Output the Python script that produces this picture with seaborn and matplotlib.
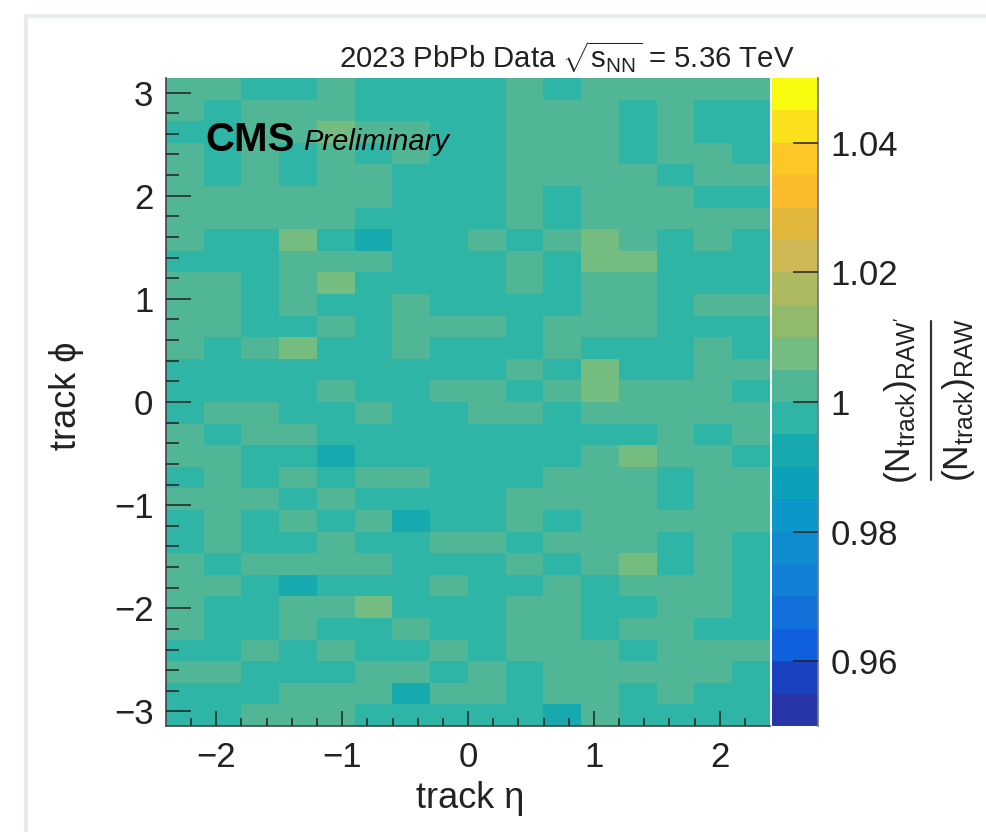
import numpy as np
import pandas as pd
import matplotlib
matplotlib.use("Agg")
import matplotlib.pyplot as plt
import seaborn as sns
from matplotlib.colors import ListedColormap
from matplotlib.lines import Line2D
from matplotlib.patches import Rectangle

sns.set_theme(style="white")
plt.rcParams['font.family'] = ['Liberation Sans', 'DejaVu Sans']
plt.rcParams['mathtext.fontset'] = 'custom'
plt.rcParams['mathtext.rm'] = 'Liberation Sans'
plt.rcParams['mathtext.it'] = 'Liberation Sans'
plt.rcParams['mathtext.bf'] = 'Liberation Sans:bold'
plt.rcParams['axes.axisbelow'] = False

# z values, one per bin colour level
B = 0.9925
T = 0.9975
G = 1.0025
O = 1.0075

# rows from the top (phi = +pi) to the bottom (phi = -pi), 16 eta bins
ratio_rows = [
    [G, G, T, T, G, T, T, T, T, G, T, G, G, G, G, G],
    [G, T, G, G, G, T, T, T, T, G, G, G, T, G, T, T],
    [T, T, G, G, O, G, G, T, T, G, G, G, T, G, T, T],
    [G, T, G, T, G, T, G, T, T, G, G, G, T, G, G, T],
    [G, T, G, T, G, G, T, T, T, G, G, G, G, T, G, G],
    [G, G, G, G, G, G, T, T, T, G, T, G, G, G, T, T],
    [G, G, G, G, G, T, T, T, T, G, T, G, G, G, G, G],
    [G, T, T, O, T, B, T, T, G, T, G, O, G, T, G, T],
    [T, T, T, G, G, G, T, T, T, G, T, O, O, T, T, T],
    [G, G, T, G, O, T, T, T, T, G, T, G, G, T, T, T],
    [G, G, T, G, T, T, G, T, T, T, T, G, G, T, G, G],
    [G, G, T, T, G, T, G, G, G, T, G, G, G, T, T, T],
    [G, T, G, O, T, T, G, T, T, T, G, T, T, T, G, T],
    [T, T, T, T, T, T, T, T, T, G, T, O, T, T, G, G],
    [T, T, T, T, G, T, T, G, G, T, G, O, G, G, G, T],
    [T, G, G, T, T, G, T, T, G, G, T, G, G, G, G, G],
    [G, T, G, G, T, T, T, T, T, T, T, T, T, G, T, G],
    [G, G, T, T, B, T, T, T, T, T, T, G, O, G, G, T],
    [T, G, T, G, T, G, G, T, T, T, G, G, G, T, G, G],
    [G, G, G, T, G, T, T, T, T, G, G, G, G, T, G, G],
    [T, G, T, G, T, G, B, T, T, G, T, G, G, G, G, G],
    [T, G, T, T, G, T, T, G, G, T, G, G, G, T, G, T],
    [G, T, G, G, G, G, T, T, T, G, T, G, O, T, G, T],
    [G, G, T, B, T, T, T, G, T, T, G, T, G, G, G, T],
    [G, T, T, G, G, O, T, T, T, G, G, T, T, G, G, T],
    [G, T, T, G, T, T, G, T, T, G, G, T, G, G, T, T],
    [T, T, G, T, G, T, T, G, T, G, G, G, T, G, G, G],
    [G, G, T, T, T, G, G, T, G, T, G, G, G, G, G, T],
    [T, T, T, G, G, G, B, G, G, T, G, G, T, G, T, T],
    [T, T, G, G, G, T, T, T, T, T, B, G, T, T, T, T],
]

eta_edges_lo = -2.4
eta_bin = 0.3
phi_hi = np.pi
phi_bin = 2 * np.pi / 30

# palette of the colour bar, low to high
level_colors = ['#2735a6', '#1a42c0', '#105fdc', '#1270da', '#1280d6',
                '#0f8cd0', '#0b98c8', '#0ba1ba', '#16a9ae', '#2fb5a5',
                '#50b696', '#75bc80', '#91bb6a', '#aeba5f', '#cdb855',
                '#e0b73a', '#f8bb2c', '#fdc827', '#fbe01c', '#f9fb0e']
cbar_ticks = [0.96, 0.98, 1.0, 1.02, 1.04]
cbar_labels = ['0.96', '0.98', '1', '1.02', '1.04']
eta_ticks = [-2, -1, 0, 1, 2]
phi_ticks = [-3, -2, -1, 0, 1, 2, 3]

W, H = 987, 832
fig = plt.figure(figsize=(W / 100, H / 100), dpi=100)
fig.patch.set_facecolor('white')


def box(left, top, right, bottom):
    return [left / W, 1 - bottom / H, (right - left) / W, (bottom - top) / H]


# card behind the plot
fig.add_artist(Rectangle((26 / W, -0.05), 1.1, 1 - 16 / H + 0.05, transform=fig.transFigure,
                         facecolor='white', edgecolor='#e6ecec', linewidth=3, zorder=-1))

ax = fig.add_axes(box(166, 78, 770, 726))
cax = fig.add_axes(box(772, 78, 818, 726))

df = pd.DataFrame(ratio_rows)
sns.heatmap(df, ax=ax, cbar_ax=cax, cmap=ListedColormap(level_colors), vmin=0.95, vmax=1.05,
            xticklabels=False, yticklabels=False, cbar_kws={'ticks': cbar_ticks})
ax.set_axisbelow(False)
cax.set_axisbelow(False)

# heatmap axes count bins, so convert eta/phi into bin units
def to_x(v):
    return (np.asarray(v, dtype=float) - eta_edges_lo) / eta_bin


def to_y(v):
    return (phi_hi - np.asarray(v, dtype=float)) / phi_bin


ax.set_xticks(to_x(eta_ticks))
ax.set_xticklabels(['\u22122', '\u22121', '0', '1', '2'])
ax.set_xticks(to_x(np.arange(-2.2, 2.4, 0.2)), minor=True)
ax.set_yticks(to_y(phi_ticks))
ax.set_yticklabels(['\u22123', '\u22122', '\u22121', '0', '1', '2', '3'])
ax.set_yticks(to_y(np.arange(-3.0, 3.01, 0.2)), minor=True)
ax.tick_params(axis='x', which='major', direction='in', length=11, width=1.1, color='#222222',
               labelsize=25, labelcolor='#222222', pad=11, bottom=True, left=False)
ax.tick_params(axis='x', which='minor', direction='in', length=5.5, width=1.1, color='#222222', bottom=True)
ax.tick_params(axis='y', which='major', direction='in', length=18, width=1.1, color='#222222',
               labelsize=25, labelcolor='#222222', pad=9, left=True, bottom=False)
ax.tick_params(axis='y', which='minor', direction='in', length=9, width=1.1, color='#222222', left=True)
for side in ['left', 'bottom']:
    ax.spines[side].set_visible(True)
    ax.spines[side].set_color('#444444')
    ax.spines[side].set_linewidth(1.2)

cbar = ax.collections[0].colorbar
cbar.outline.set_visible(False)
cbar.set_ticklabels(cbar_labels)
cbar.ax.tick_params(axis='y', which='both', direction='in', length=18, width=1.1, color='#222222',
                    labelsize=25, labelcolor='#222222', pad=9, right=True)
cax.spines['right'].set_visible(True)
cax.spines['right'].set_color('#777777')

fig.text(470 / W, 1 - 798 / H, 'track \u03b7', fontsize=26, color='#222222', ha='center', va='center')
fig.text(67 / W, 1 - 396 / H, 'track \u03d5', fontsize=26, color='#222222', ha='center', va='center',
         rotation=90)
fig.text(567 / W, 1 - 57 / H, r'2023 PbPb Data $\sqrt{\mathrm{s_{NN}}}$ = 5.36 TeV', fontsize=21.2,
         color='#222222', ha='center', va='center')
fig.text(205 / W, 1 - 140 / H, 'CMS', fontsize=29, fontweight='bold', color='black', ha='left', va='center')
fig.text(303 / W, 1 - 142 / H, 'Preliminary', fontsize=21, fontstyle='italic', color='black', ha='left', va='center')

# colour bar title, written as a stacked ratio
fig.text(901 / W, 1 - 400 / H, r"$(\mathrm{N_{track}})_{\mathrm{RAW'}}$", fontsize=25.5, color='#222222',
         ha='center', va='center', rotation=90)
fig.text(959 / W, 1 - 400 / H, r"$(\mathrm{N_{track}})_{\mathrm{RAW}}$", fontsize=25.5, color='#222222',
         ha='center', va='center', rotation=90)
fig.add_artist(Line2D([930.5 / W, 930.5 / W], [1 - 321 / H, 1 - 480 / H], transform=fig.transFigure,
                      color='#333333', linewidth=1.6))

fig.savefig('out.png', dpi=100)
